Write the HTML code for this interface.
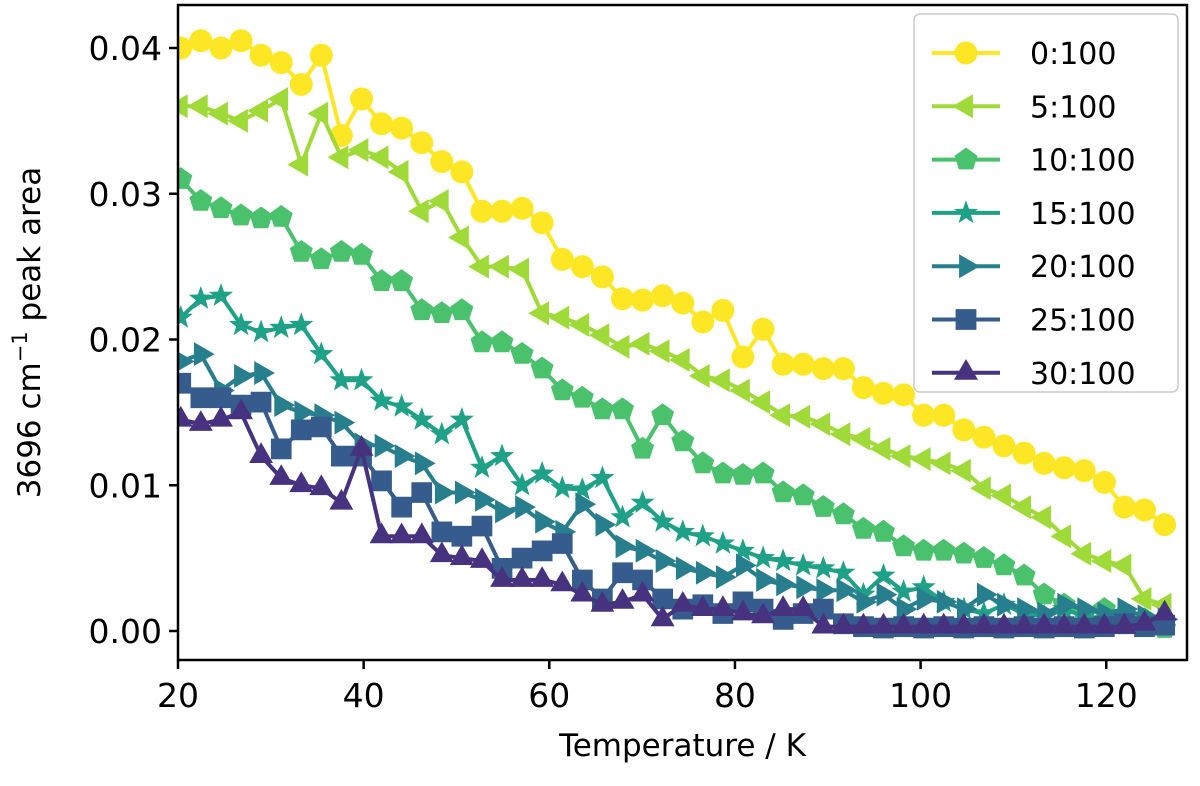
<!DOCTYPE html>
<html><head><meta charset="utf-8"><style>
body{margin:0;background:#fff}
svg text{font-family:"DejaVu Sans","Liberation Sans",sans-serif;fill:#000}
</style></head><body>
<svg id="chart" width="1200" height="781" xmlns="http://www.w3.org/2000/svg"></svg>
<script>
const temps=[];for(let i=0;i<50;i++)temps.push(+(20.3+2.163*i).toFixed(2));
const s0=[0.04,0.0405,0.040,0.0405,0.0395,0.039,0.0375,0.0395,0.034,0.0365,0.0348,0.0345,0.0335,0.0322,0.0315,0.0288,0.0288,0.029,0.028,0.0255,0.025,0.0243,0.0228,0.0227,0.023,0.0225,0.0212,0.022,0.0188,0.0207,0.0183,0.0183,0.018,0.018,0.0167,0.0163,0.0162,0.0148,0.0148,0.0138,0.0133,0.0127,0.0122,0.0115,0.0112,0.011,0.0102,0.0085,0.0083,0.0073];
const s5=[0.036,0.036,0.0355,0.035,0.0357,0.0365,0.032,0.0355,0.0325,0.033,0.0325,0.0315,0.0288,0.0295,0.027,0.025,0.025,0.0248,0.0218,0.0215,0.021,0.0203,0.0195,0.0197,0.0192,0.0186,0.0175,0.0172,0.0165,0.0157,0.0148,0.0147,0.0142,0.0135,0.0132,0.0125,0.012,0.0118,0.0115,0.011,0.0098,0.0093,0.0085,0.0078,0.0065,0.0053,0.0048,0.0045,0.0022,0.0018];
const s10=[0.031,0.0295,0.029,0.0285,0.0283,0.0284,0.026,0.0255,0.026,0.0258,0.024,0.024,0.022,0.0218,0.022,0.0198,0.0198,0.019,0.018,0.0165,0.016,0.0152,0.0152,0.0125,0.0148,0.013,0.0115,0.0108,0.0107,0.0108,0.0095,0.0093,0.0085,0.008,0.007,0.0068,0.0058,0.0055,0.0055,0.0053,0.005,0.0045,0.0038,0.0025,0.0018,0.0012,0.0015,0.001,0.0008,0.0002];
const s15=[0.0215,0.0228,0.023,0.021,0.0205,0.0208,0.021,0.019,0.0172,0.0172,0.0158,0.0154,0.0145,0.0135,0.0145,0.0112,0.012,0.01,0.0108,0.0098,0.0097,0.0105,0.0078,0.0088,0.0075,0.0068,0.0065,0.006,0.0055,0.005,0.0048,0.0045,0.0043,0.004,0.0025,0.0038,0.0027,0.003,0.002,0.0015,0.0012,0.0018,0.0012,0.001,0.0015,0.001,0.0008,0.001,0.0006,0.0005];
const s20=[0.0185,0.019,0.0165,0.0175,0.0177,0.0155,0.015,0.0148,0.0143,0.0128,0.0127,0.012,0.0115,0.0095,0.0095,0.009,0.0082,0.0085,0.0075,0.0068,0.0087,0.0073,0.0058,0.0055,0.0048,0.0043,0.004,0.0037,0.0045,0.0035,0.0032,0.003,0.0028,0.0028,0.002,0.0025,0.0015,0.0022,0.002,0.0015,0.0025,0.0018,0.0015,0.0012,0.0018,0.0015,0.0012,0.0015,0.001,0.0008];
const s25=[0.017,0.016,0.016,0.0155,0.0157,0.0125,0.0138,0.014,0.012,0.012,0.0103,0.0085,0.0095,0.0068,0.0065,0.0072,0.0043,0.005,0.0055,0.006,0.0035,0.0022,0.004,0.0035,0.0022,0.0015,0.0018,0.0012,0.002,0.0015,0.0008,0.0012,0.0015,0.0005,0.0003,0.0002,0.0003,0.0002,0.0003,0.0002,0.0003,0.0002,0.0003,0.0002,0.0003,0.0002,0.0003,0.0005,0.0003,0.0004];
const s30=[0.0145,0.0142,0.0145,0.015,0.012,0.0105,0.010,0.0098,0.0088,0.0125,0.0065,0.0065,0.0065,0.0052,0.005,0.0048,0.0035,0.0035,0.0035,0.0032,0.0025,0.0018,0.002,0.0025,0.0008,0.0018,0.0015,0.0015,0.0012,0.001,0.0015,0.0015,0.0003,0.0003,0.0003,0.0003,0.0003,0.0003,0.0003,0.0003,0.0003,0.0003,0.0003,0.0003,0.0003,0.0003,0.0003,0.0003,0.0005,0.0012];
const seriesNames=["0:100","5:100","10:100","15:100","20:100","25:100","30:100"];
const xTicks=[20,40,60,80,100,120];
const yTicks=[0,0.01,0.02,0.03,0.04];
const yTickLabels=["0.00","0.01","0.02","0.03","0.04"];

const all=[s0,s5,s10,s15,s20,s25,s30];
const colors=["#fde725","#a0da39","#4ac16d","#1fa187","#277f8e","#365c8d","#46327e"];
const shapes=["circle","tri-left","pentagon","star","tri-right","square","tri-up"];
const L=178,T=5,R=1187,B=660;
const xs=t=>L+(t-20)*(R-L)/(128.7-20);
const ys=v=>631-v*14575;
const NS="http://www.w3.org/2000/svg";
const svg=document.getElementById('chart');
function mk(tag,attrs,parent){const e=document.createElementNS(NS,tag);for(const k in attrs)e.setAttribute(k,attrs[k]);(parent||svg).appendChild(e);return e;}
function markerPath(shape,x,y,r){
  let pts=[];
  const poly=(n,rot,rad)=>{for(let i=0;i<n;i++){const a=rot+i*2*Math.PI/n;pts.push([x+rad*Math.cos(a),y+rad*Math.sin(a)]);}};
  if(shape==="tri-left")poly(3,Math.PI,r*1.2);
  else if(shape==="tri-right")poly(3,0,r*1.2);
  else if(shape==="tri-up")poly(3,-Math.PI/2,r*1.2);
  else if(shape==="pentagon")poly(5,-Math.PI/2,r*1.05);
  else if(shape==="square"){pts=[[x-r*0.9,y-r*0.9],[x+r*0.9,y-r*0.9],[x+r*0.9,y+r*0.9],[x-r*0.9,y+r*0.9]];}
  else if(shape==="star"){for(let i=0;i<10;i++){const a=-Math.PI/2+i*Math.PI/5;const rr=i%2?r*0.45:r*1.1;pts.push([x+rr*Math.cos(a),y+rr*Math.sin(a)]);}}
  return pts.map(p=>p[0].toFixed(1)+","+p[1].toFixed(1)).join(" ");
}
function drawMarker(g,shape,x,y,color){
  const r=11.5;
  if(shape==="circle"){const c=mk('circle',{cx:x,cy:y,r:r,fill:color},g);
    
    return;}
  const p=mk('polygon',{points:markerPath(shape,x,y,r),fill:color},g);
  
  
}
const defs=mk('defs',{});
const cp=mk('clipPath',{id:'clip'},defs);mk('rect',{x:L,y:T,width:R-L,height:B-T},cp);
const plot=mk('g',{'clip-path':'url(#clip)'});


all.forEach((s,si)=>{
  const g=mk('g',{},plot);
  
  
  const n=Math.min(s.length,temps.length);
  let d="";for(let i=0;i<n;i++)d+=(i?"L":"M")+xs(temps[i]).toFixed(1)+","+ys(s[i]).toFixed(1);
  mk('path',{d:d,fill:'none',stroke:colors[si],'stroke-width':4,'stroke-linejoin':'round'},g);
  for(let i=0;i<n;i++)drawMarker(g,shapes[si],xs(temps[i]),ys(s[i]),colors[si]);
});
const ax=mk('g',{});


mk('rect',{x:L,y:T,width:R-L,height:B-T,fill:'none',stroke:'#000','stroke-width':2.5},ax);
xTicks.forEach(t=>{const x=xs(t);mk('line',{x1:x,x2:x,y1:B,y2:B+9,stroke:'#000','stroke-width':2.5},ax);
  const tx=mk('text',{x:x,y:B+47,'text-anchor':'middle','font-size':33},ax);tx.textContent=t;
  
  });
yTicks.forEach((v,i)=>{const y=ys(v);mk('line',{x1:L-9,x2:L,y1:y,y2:y,stroke:'#000','stroke-width':2.5},ax);
  const tx=mk('text',{x:L-16,y:y+12,'text-anchor':'end','font-size':33},ax);tx.textContent=yTickLabels[i];
  
  });
const xl=mk('text',{x:(L+R)/2,y:756,'text-anchor':'middle','font-size':31},ax);xl.textContent="Temperature / K";


const yl=mk('text',{x:0,y:0,'text-anchor':'middle','font-size':31,transform:'translate(40,'+((T+B)/2)+') rotate(-90)'},ax);
yl.innerHTML='3696 cm<tspan dy="-13" font-size="21">−1</tspan><tspan dy="13"> peak area</tspan>';


const lg=mk('g',{});


mk('rect',{x:914,y:14,width:264,height:378,rx:6,fill:'#fff','fill-opacity':0.85,stroke:'#ccc','stroke-width':1.5},lg);
seriesNames.forEach((nm,i)=>{
  const y=53+i*53.3;
  const e=mk('g',{},lg);
  
  
  mk('line',{x1:932,x2:1000,y1:y,y2:y,stroke:colors[i],'stroke-width':4},e);
  drawMarker(e,shapes[i],966,y,colors[i]);
  const t=mk('text',{x:1030,y:y+11,'font-size':30},e);t.textContent=nm;
});
</script>
</body></html>
